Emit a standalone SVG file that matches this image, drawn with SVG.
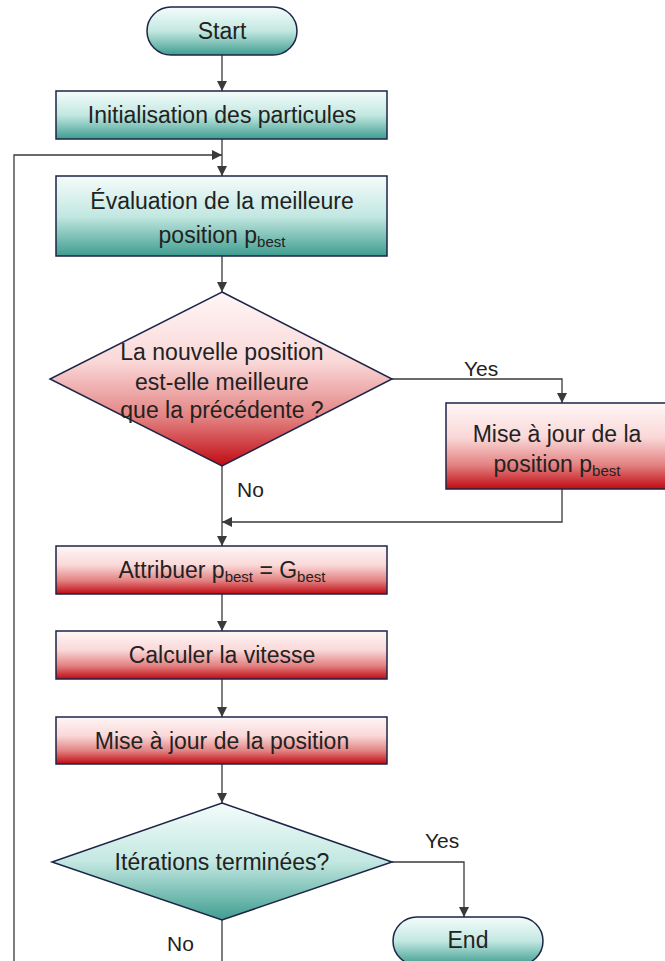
<svg xmlns="http://www.w3.org/2000/svg" width="665" height="961" viewBox="0 0 665 961">
<style>
.node{stroke:#1c2547;stroke-width:1.5}
.teal{fill:url(#gTeal)}
.red{fill:url(#gRed)}
.t{font-family:"Liberation Sans",Arial,sans-serif;font-size:23px;fill:#222;text-anchor:middle}
.sub{font-size:15px}
.lbl{font-family:"Liberation Sans",Arial,sans-serif;font-size:21px;fill:#222}
.c{fill:none;stroke:#3a3a3a;stroke-width:1.3}
</style>
<defs>
<linearGradient id="gTeal" x1="0" y1="0" x2="0" y2="1">
<stop offset="0" stop-color="#f4fcfb"/>
<stop offset="0.5" stop-color="#c3e8e1"/>
<stop offset="1" stop-color="#3f9d90"/>
</linearGradient>
<linearGradient id="gRed" x1="0" y1="0" x2="0" y2="1">
<stop offset="0" stop-color="#fff6f6"/>
<stop offset="0.4" stop-color="#fad8d8"/>
<stop offset="0.72" stop-color="#e38282"/>
<stop offset="1" stop-color="#c00a12"/>
</linearGradient>
<marker id="arr" viewBox="0 0 10 10" refX="10" refY="5" markerWidth="10" markerHeight="10" markerUnits="userSpaceOnUse" orient="auto">
<path d="M0,0 L10,5 L0,10 z" fill="#3a3a3a"/>
</marker>
</defs>

<g id="connectors">
<path class="c" d="M222,55 V91" marker-end="url(#arr)"/>
<path class="c" d="M222,139 V176" marker-end="url(#arr)"/>
<path class="c" d="M222,920 V990 H14 V155 H222" marker-end="url(#arr)"/>
<path class="c" d="M222,256 V292" marker-end="url(#arr)"/>
<path class="c" d="M392,379 H562 V403" marker-end="url(#arr)"/>
<path class="c" d="M222,466 V546" marker-end="url(#arr)"/>
<path class="c" d="M562,489 V522 H222" marker-end="url(#arr)"/>
<path class="c" d="M222,594 V631" marker-end="url(#arr)"/>
<path class="c" d="M222,679 V717" marker-end="url(#arr)"/>
<path class="c" d="M222,764 V803" marker-end="url(#arr)"/>
<path class="c" d="M392,862 H464 V917" marker-end="url(#arr)"/>
<text class="lbl" x="464" y="376">Yes</text>
<text class="lbl" x="237" y="497">No</text>
<text class="lbl" x="425" y="848">Yes</text>
<text class="lbl" x="167" y="951">No</text>
</g>

<g id="start">
<rect class="node teal" x="147" y="7" width="150" height="48" rx="24"/>
<text class="t" x="222" y="39">Start</text>
</g>

<g id="init">
<rect class="node teal" x="56" y="91" width="331" height="48"/>
<text class="t" x="222" y="123">Initialisation des particules</text>
</g>

<g id="eval">
<rect class="node teal" x="56" y="176" width="331" height="80"/>
<text class="t" x="222" y="209">Évaluation de la meilleure</text>
<text class="t" x="222" y="243">position p<tspan class="sub" dy="4">best</tspan></text>
</g>

<g id="decision1">
<polygon class="node red" points="222,292 392,379 222,466 50,379"/>
<text class="t" x="222" y="360">La nouvelle position</text>
<text class="t" x="222" y="390">est-elle meilleure</text>
<text class="t" x="222" y="418">que la précédente ?</text>
</g>

<g id="update-pbest">
<rect class="node red" x="446" y="403" width="222" height="86"/>
<text class="t" x="557" y="442">Mise à jour de la</text>
<text class="t" x="557" y="472">position p<tspan class="sub" dy="4">best</tspan></text>
</g>

<g id="assign">
<rect class="node red" x="56" y="546" width="331" height="48"/>
<text class="t" x="222" y="578">Attribuer p<tspan class="sub" dy="4">best</tspan><tspan dy="-4"> = G</tspan><tspan class="sub" dy="4">best</tspan></text>
</g>

<g id="speed">
<rect class="node red" x="56" y="631" width="331" height="48"/>
<text class="t" x="222" y="663">Calculer la vitesse</text>
</g>

<g id="update-pos">
<rect class="node red" x="56" y="717" width="331" height="47"/>
<text class="t" x="222" y="749">Mise à jour de la position</text>
</g>

<g id="decision2">
<polygon class="node teal" points="222,803 392,862 222,920 52,862"/>
<text class="t" x="222" y="870">Itérations terminées?</text>
</g>

<g id="end">
<rect class="node teal" x="393" y="917" width="150" height="48" rx="24"/>
<text class="t" x="468" y="948">End</text>
</g>
</svg>
